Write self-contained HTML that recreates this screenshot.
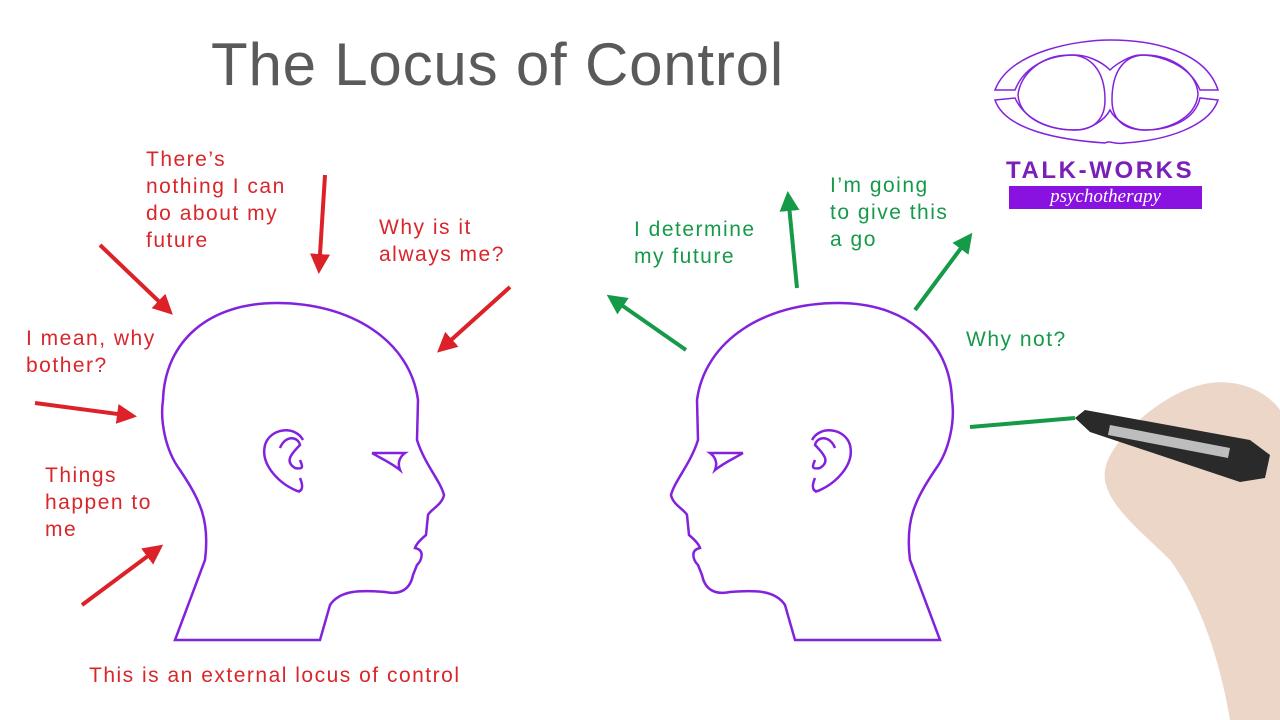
<!DOCTYPE html>
<html><head><meta charset="utf-8"><style>
body{margin:0;width:1280px;height:720px;background:#fff;overflow:hidden;position:relative;font-family:"Liberation Sans",sans-serif}
.t{position:absolute;font-size:21px;line-height:27px;letter-spacing:1.5px}
.r{color:#d9262a}.g{color:#169a4a}
</style></head><body>
<div style="position:absolute;left:211px;top:30px;font-size:60px;color:#5a5a5a;letter-spacing:0.8px">The Locus of Control</div>
<div class="t r" style="left:146px;top:146px">There’s<br>nothing I can<br>do about my<br>future</div>
<div class="t r" style="left:379px;top:214px">Why is it<br>always me?</div>
<div class="t r" style="left:26px;top:325px">I mean, why<br>bother?</div>
<div class="t r" style="left:45px;top:462px">Things<br>happen to<br>me</div>
<div class="t r" style="left:89px;top:662px">This is an external locus of control</div>
<div class="t g" style="left:634px;top:216px">I determine<br>my future</div>
<div class="t g" style="left:830px;top:172px">I’m going<br>to give this<br>a go</div>
<div class="t g" style="left:966px;top:326px">Why not?</div>
<div style="position:absolute;left:1006px;top:157px;font-size:24px;font-weight:bold;color:#7a1fb8;letter-spacing:2.6px">TALK-WORKS</div>
<div style="position:absolute;left:1009px;top:186px;width:193px;height:23px;background:#8a12e0;color:#fff;font-family:'Liberation Serif',serif;font-style:italic;font-size:19px;text-align:center;line-height:22px">psychotherapy</div>
<svg width="1280" height="720" style="position:absolute;left:0;top:0">
<defs>
<marker id="ar" markerWidth="6" markerHeight="6" refX="4" refY="3" orient="auto" markerUnits="strokeWidth"><path d="M0,0.5 L5,3 L0,5.5 Z" fill="#dc2228"/></marker>
<marker id="ag" markerWidth="6" markerHeight="6" refX="4" refY="3" orient="auto" markerUnits="strokeWidth"><path d="M0,0.5 L5,3 L0,5.5 Z" fill="#159a48"/></marker>
</defs>
<g fill="none" stroke="#8222dd" stroke-width="1.5">
<path d="M995,90 C1010,50 1080,40 1110,40 C1150,40 1205,50 1218,90 L1200,90 C1190,65 1160,55 1140,55 C1130,55 1115,65 1110,70 C1100,60 1085,55 1075,55 C1050,55 1025,65 1015,90 Z"/>
<path d="M995,100 L1015,98 C1025,120 1050,130 1075,130 C1090,130 1105,120 1110,110 C1115,120 1130,130 1145,130 C1170,130 1195,120 1200,98 L1218,100 C1210,125 1170,140 1125,143 C1115,145 1110,140 1105,143 C1060,140 1005,130 995,100 Z"/>
<path d="M1105,100 C1105,70 1090,55 1070,55 C1040,55 1020,75 1018,95 C1020,120 1050,130 1075,130 C1095,130 1105,118 1105,100 Z"/>
<path d="M1112,100 C1112,70 1125,55 1145,55 C1175,55 1198,75 1198,95 C1195,120 1165,130 1145,130 C1122,130 1112,118 1112,100 Z"/>
</g>
<g id="head" fill="none" stroke="#8222dd" stroke-width="2.5">
<path d="M175,640 L205,560 C210,520 200,500 180,470 C165,450 160,420 163,400 C165,340 210,303 277,303 C350,303 410,340 418,400 L417,440 C425,465 440,480 444,495 C442,505 430,510 428,515 L426,535 C420,540 416,545 415,548 C425,550 422,560 417,565 L413,575 C410,590 400,595 385,592 C360,590 340,590 330,605 L320,640 Z"/>
<path d="M303,440 C295,425 270,428 265,445 C260,465 280,485 300,492 M300,478 C305,490 300,493 295,490 M280,448 C285,435 298,436 300,445 C290,455 285,462 295,468 C305,470 302,465 300,460 M372,453 L405,453 C398,458 398,465 400,470 C390,462 380,458 372,453"/>
</g>
<use href="#head" transform="translate(1115,0) scale(-1,1)"/>
<g stroke="#dc2228" stroke-width="4" marker-end="url(#ar)">
<line x1="100" y1="245" x2="170" y2="312"/>
<line x1="325" y1="175" x2="319" y2="270"/>
<line x1="510" y1="287" x2="440" y2="350"/>
<line x1="35" y1="403" x2="133" y2="416"/>
<line x1="82" y1="605" x2="160" y2="547"/>
</g>
<g stroke="#159a48" stroke-width="4" marker-end="url(#ag)">
<line x1="686" y1="350" x2="610" y2="297"/>
<line x1="797" y1="288" x2="788" y2="195"/>
<line x1="915" y1="310" x2="970" y2="236"/>
</g>
<line x1="970" y1="427" x2="1075" y2="418" stroke="#159a48" stroke-width="4"/>
<path d="M1200,385 C1240,375 1270,395 1280,410 L1280,720 L1230,720 C1220,660 1200,600 1170,560 C1140,530 1100,500 1105,470 C1110,440 1160,395 1200,385 Z" fill="#ecd6c8"/>
<path d="M1075,418 L1085,410 L1250,440 L1270,455 L1265,478 L1240,482 L1090,432 Z" fill="#2a2a2a"/>
<path d="M1110,425 L1230,448 L1228,458 L1108,435 Z" fill="#bdbdbd"/>
</svg>
</body></html>
